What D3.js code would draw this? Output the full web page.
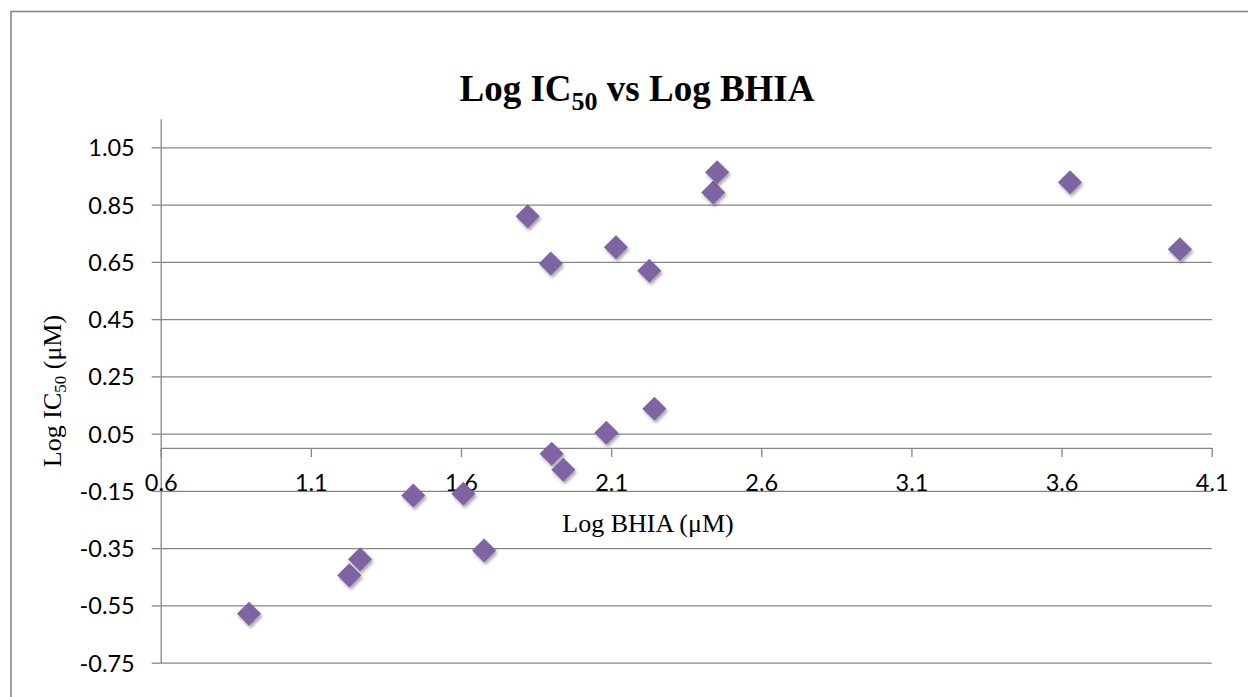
<!DOCTYPE html>
<html>
<head>
<meta charset="utf-8">
<script src="https://cdn.jsdelivr.net/npm/d3@7"></script>
<style>
  html, body { margin: 0; padding: 0; background: #ffffff; }
  svg { display: block; }
</style>
</head>
<body>
<svg id="chart" width="1248" height="697"></svg>
<script>
// Log BHIA (x) and Log IC50 (y) for each compound, in µM
const logBHIA = [0.894, 1.228, 1.264, 1.441, 1.608, 1.677, 1.822, 1.899, 1.902,
                 1.941, 2.084, 2.116, 2.227, 2.244, 2.440, 2.453, 3.628, 3.994];
const logIC50 = [-0.579, -0.445, -0.389, -0.166, -0.160, -0.358, 0.809, 0.644, -0.020,
                 -0.076, 0.053, 0.701, 0.619, 0.137, 0.892, 0.963, 0.928, 0.694];

const xTicks = [0.6, 1.1, 1.6, 2.1, 2.6, 3.1, 3.6, 4.1];
const yTicks = [-0.75, -0.55, -0.35, -0.15, 0.05, 0.25, 0.45, 0.65, 0.85, 1.05];
const xDomain = [0.6, 4.1];
const yDomain = [-0.75, 1.15];

const points = logBHIA.map((x, i) => ({ x, y: logIC50[i] }));

const svg = d3.select("#chart");
const W = 1248, H = 697;
const margin = { left: 160.7, top: 118.7, right: W - 1211.7, bottom: H - 662.7 };
const iw = W - margin.left - margin.right;
const ih = H - margin.top - margin.bottom;

const gray = "#868686";
const tickFont = "Lato, 'Open Sans', sans-serif";
const serif = "'Liberation Serif', 'Times New Roman', serif";
// plain hyphen for negative numbers
const fmt = p => d => d3.format(p)(d).replace("\u2212", "-");

// drop shadow for the markers
const defs = svg.append("defs");
const f = defs.append("filter").attr("id", "shadow")
  .attr("x", "-50%").attr("y", "-50%").attr("width", "200%").attr("height", "200%");
f.append("feDropShadow").attr("dx", 1.5).attr("dy", 2.5).attr("stdDeviation", 1.8)
  .attr("flood-color", "#000").attr("flood-opacity", 0.35);

// outer chart border (runs past the right and bottom edges)
svg.append("rect")
  .attr("x", 11).attr("y", 11.5).attr("width", W + 20).attr("height", H + 20)
  .attr("fill", "none").attr("stroke", "#878787").attr("stroke-width", 1.6);

const x = d3.scaleLinear().domain(xDomain).range([0, iw]);
const y = d3.scaleLinear().domain(yDomain).range([ih, 0]);

const g = svg.append("g").attr("transform", `translate(${margin.left},${margin.top})`);

// horizontal gridlines
g.append("g")
  .call(d3.axisLeft(y).tickValues(yTicks).tickSize(-iw).tickFormat(""))
  .call(s => s.select(".domain").remove())
  .call(s => s.selectAll("line").attr("stroke", gray).attr("stroke-width", 1.3));

// vertical axis with labels
const yAxis = g.append("g")
  .call(d3.axisLeft(y).tickValues(yTicks).tickSize(9).tickSizeOuter(0).tickPadding(17)
    .tickFormat(fmt(".2f")));
yAxis.select(".domain").attr("stroke", gray).attr("stroke-width", 1.3);
yAxis.selectAll("line").attr("stroke", gray).attr("stroke-width", 1.3);
yAxis.selectAll("text").attr("font-family", tickFont).attr("font-size", 23.5)
  .attr("fill", "#000").attr("dy", "0.36em");

// horizontal axis crossing at zero
const xAxis = g.append("g").attr("transform", `translate(0,${y(0)})`)
  .call(d3.axisBottom(x).tickValues(xTicks).tickSize(9).tickSizeOuter(0)
    .tickFormat(fmt(".1f")));
xAxis.select(".domain").attr("stroke", gray).attr("stroke-width", 1.3);
xAxis.selectAll("line").attr("stroke", gray).attr("stroke-width", 1.3);
xAxis.selectAll("text").attr("font-family", tickFont).attr("font-size", 23.5)
  .attr("fill", "#000").attr("y", 35).attr("dy", "0.36em");

// diamond markers
const diamond = d3.symbol().type(d3.symbolDiamond2).size(370);
g.append("g").selectAll("path")
  .data(points)
  .join("path")
  .attr("d", diamond)
  .attr("transform", d => `translate(${x(d.x)},${y(d.y)})`)
  .attr("fill", "#8064A2")
  .attr("filter", "url(#shadow)");

// title
const title = svg.append("text")
  .attr("x", 637).attr("y", 101)
  .attr("text-anchor", "middle")
  .attr("font-family", serif).attr("font-weight", "bold").attr("font-size", 37)
  .attr("fill", "#000");
title.append("tspan").text("Log IC");
title.append("tspan").attr("font-size", 26).attr("dy", 9).text("50");
title.append("tspan").attr("dy", -9).text(" vs Log BHIA");

// axis titles
svg.append("text")
  .attr("x", 648).attr("y", 532)
  .attr("text-anchor", "middle")
  .attr("font-family", serif).attr("font-size", 26).attr("fill", "#000")
  .text("Log BHIA (\u03BCM)");

const yt = svg.append("text")
  .attr("transform", "translate(61,391) rotate(-90)")
  .attr("text-anchor", "middle")
  .attr("font-family", serif).attr("font-size", 26).attr("fill", "#000");
yt.append("tspan").text("Log IC");
yt.append("tspan").attr("font-size", 17).attr("dy", 5).text("50");
yt.append("tspan").attr("dy", -5).text(" (\u03BCM)");
</script>
</body>
</html>
